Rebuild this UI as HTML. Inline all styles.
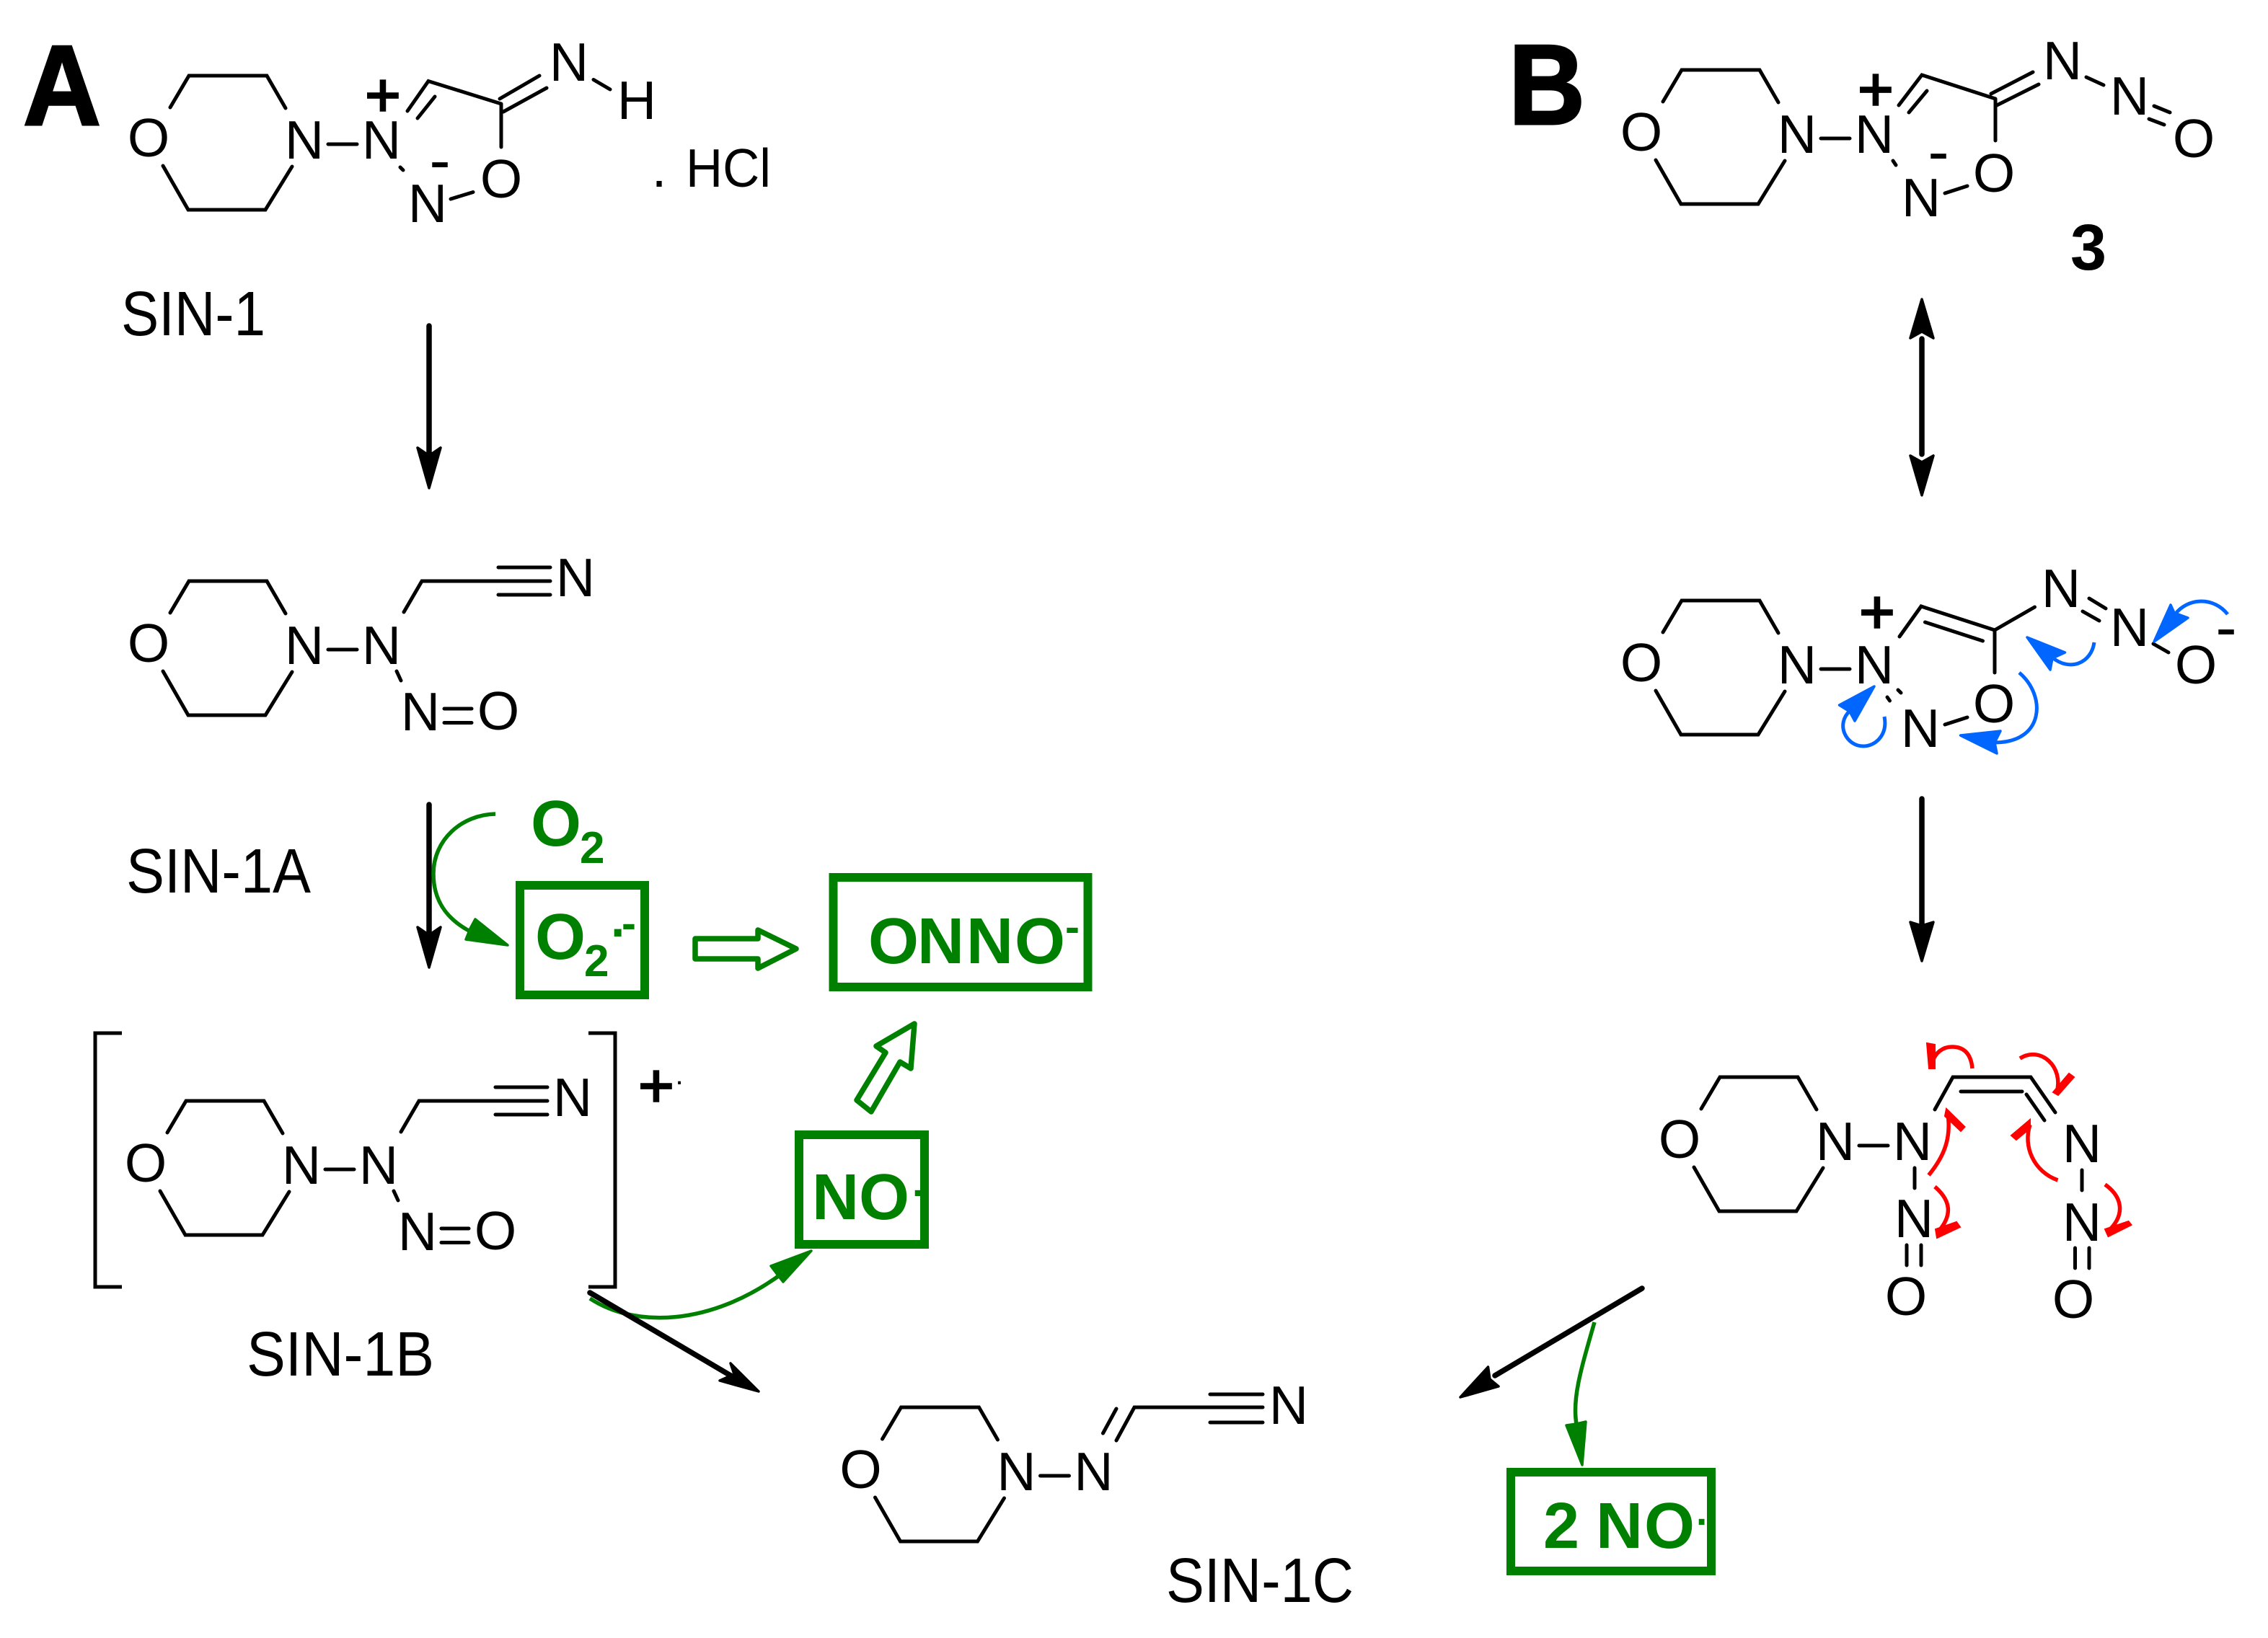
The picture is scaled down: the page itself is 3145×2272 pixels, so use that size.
<!DOCTYPE html>
<html>
<head>
<meta charset="utf-8">
<title>SIN-1 decomposition</title>
<style>
html,body{margin:0;padding:0;background:#fff;}
svg{display:block;}
text{font-family:"Liberation Sans",Arial,sans-serif;}
.a{font-size:75px;text-anchor:middle;fill:#000;}
.p{font-size:85px;text-anchor:middle;fill:#000;stroke:#000;stroke-width:2.5px;}
.m{font-size:88px;text-anchor:middle;fill:#000;}
.l{font-size:87px;fill:#000;}
.big{font-size:158px;font-weight:bold;fill:#000;stroke:#000;stroke-width:3px;}
.g{font-size:90px;font-weight:bold;fill:#008000;}
.gs{font-size:62px;font-weight:bold;fill:#008000;}
.b{fill:none;stroke:#000;stroke-width:5;stroke-linecap:round;stroke-linejoin:miter;}
.ar{fill:none;stroke:#000;stroke-width:7.5;stroke-linecap:round;}
.ah{fill:#000;stroke:#000;stroke-width:3.5;stroke-linejoin:round;}
.gl{fill:none;stroke:#008000;stroke-width:5.5;}
.gh{fill:#008000;stroke:#008000;stroke-width:3.5;stroke-linejoin:round;}
.box{fill:none;stroke:#008000;stroke-width:12;}
.open{fill:#fff;stroke:#008000;stroke-width:7.5;stroke-linejoin:round;}
.bl{fill:none;stroke:#0066ff;stroke-width:5;}
.bh{fill:#0066ff;stroke:#0066ff;stroke-width:3.5;stroke-linejoin:round;}
.r{fill:none;stroke:#ff0000;stroke-width:5.5;}
.rh{fill:#ff0000;stroke:#ff0000;stroke-width:2;}
</style>
</head>
<body>
<svg xmlns="http://www.w3.org/2000/svg" width="3145" height="2272" viewBox="0 0 3145 2272">
<rect width="3145" height="2272" fill="#fff"/>

<!-- Panel labels -->
<text class="big" x="32" y="173" textLength="108" lengthAdjust="spacingAndGlyphs">A</text>
<text class="big" x="2092" y="172" textLength="106" lengthAdjust="spacingAndGlyphs">B</text>

<!-- SIN-1 -->
<g>
<path class="b" d="M236 149L262 105H370L396 150M226 230L261 291H368L405 231M455 200H495"/>
<text class="a" x="206" y="217">O</text><text class="a" x="422" y="220">N</text><text class="a" x="529" y="220">N</text>
</g>
<path class="b" d="M565 154L594 112.5L695 144M579 164L603 134M693 137L748 105M698 155L758 122M695 144V204M625 276L656 266.5M555 232L559 236M823 110.5L846 124"/>
<text class="p" x="531" y="161">+</text>
<text class="m" x="610" y="252">-</text>
<text class="a" x="695" y="274">O</text>
<text class="a" x="593" y="308">N</text>
<text class="a" x="789" y="112">N</text>
<text class="a" x="883" y="165">H</text>
<text class="a" x="914" y="259">.</text>
<text class="a" x="1010" y="259" textLength="118" lengthAdjust="spacingAndGlyphs">HCl</text>
<text class="l" x="168" y="465" textLength="200" lengthAdjust="spacingAndGlyphs">SIN-1</text>

<!-- Arrow 1 -->
<path class="ar" d="M595 452V630"/>
<polygon class="ah" points="595,677 579,621 595,632 611,621"/>

<!-- SIN-1A -->
<g transform="translate(0,701)">
<path class="b" d="M236 149L262 105H370L396 150M226 230L261 291H368L405 231M455 200H495"/>
<text class="a" x="206" y="217">O</text><text class="a" x="422" y="220">N</text><text class="a" x="529" y="220">N</text>
</g>
<path class="b" d="M560 849L585 806H763M691 787H763M691 825H763M550 931L556 944M616 983H654M616 1002.500H654"/>
<text class="a" x="798" y="827">N</text>
<text class="a" x="583" y="1013">N</text>
<text class="a" x="691" y="1012">O</text>
<text class="l" x="175" y="1238" textLength="256" lengthAdjust="spacingAndGlyphs">SIN-1A</text>

<!-- Arrow 2 -->
<path class="ar" d="M595 1116V1294"/>
<polygon class="ah" points="595,1342 579,1286 595,1297 611,1286"/>

<!-- O2 -->
<path class="gl" d="M687 1129C640 1130 601 1165 601 1212C601 1250 620 1275 652 1292"/>
<polygon class="gh" points="704,1311 659,1275 652,1288 646,1303"/>
<text class="g" x="736" y="1173">O</text>
<text class="gs" x="804" y="1197">2</text>
<rect class="box" x="721" y="1228" width="173" height="152"/>
<text class="g" x="742" y="1330">O</text>
<text class="gs" x="810" y="1354">2</text>
<text class="g" style="font-size:70px" x="847" y="1299">.</text>
<text class="g" style="font-size:60px" x="862" y="1301">-</text>

<!-- Open arrows, ONNO -->
<polygon class="open" points="964,1302 1051,1302 1051,1290 1104,1316 1051,1343 1051,1330 964,1330"/>
<rect class="box" x="1155.500" y="1217" width="353" height="152"/>
<text class="g" x="1204 1272 1340 1407" y="1336">ONNO</text>
<text class="g" style="font-size:60px" x="1477" y="1306">-</text>
<polygon class="open" points="1188,1526 1208,1542 1248,1473 1263,1482 1268,1420 1215,1451 1228,1460"/>

<!-- NO box -->
<rect class="box" x="1108" y="1574" width="174" height="152"/>
<text class="g" x="1126 1191" y="1691">NO</text>
<text class="g" style="font-size:55px" x="1265" y="1659">.</text>

<!-- SIN-1B -->
<path class="b" style="stroke-linecap:butt" d="M169 1433H132V1785H169M816 1433H853V1785H816"/>
<g transform="translate(-4,1422)">
<path class="b" d="M236 149L262 105H370L396 150M226 230L261 291H368L405 231M455 200H495"/>
<text class="a" x="206" y="217">O</text><text class="a" x="422" y="220">N</text><text class="a" x="529" y="220">N</text>
</g>
<path class="b" d="M556 1570L581 1527H759M687 1508H759M687 1546H759M546 1652L552 1665M612 1704H650M612 1723.500H650"/>
<text class="a" x="794" y="1548">N</text>
<text class="a" x="579" y="1734">N</text>
<text class="a" x="687" y="1733">O</text>
<text class="p" x="910" y="1535">+</text>
<text class="a" style="font-size:40px" x="942" y="1504">.</text>
<text class="l" x="342" y="1908" textLength="260" lengthAdjust="spacingAndGlyphs">SIN-1B</text>

<!-- Arrows from SIN-1B -->
<path class="gl" d="M818 1801C880 1842 985 1840 1085 1766"/>
<polygon class="gh" points="1125,1735 1069,1756 1078,1768 1086,1778"/>
<path class="ar" d="M818 1793L1020 1912"/>
<polygon class="ah" points="1052,1930 1013,1891 1018,1906 998,1915"/>

<!-- SIN-1C -->
<g transform="translate(987.500,1847)">
<path class="b" d="M236 149L262 105H370L396 150M226 230L261 291H368L405 231M455 200H495"/>
<text class="a" x="206" y="217">O</text><text class="a" x="422" y="220">N</text><text class="a" x="529" y="220">N</text>
</g>
<path class="b" d="M1548 1998L1573 1952H1751M1678 1934H1751M1678 1973H1751M1529.500 1988L1548 1954"/>
<text class="a" x="1787" y="1975">N</text>
<text class="l" x="1617" y="2222" textLength="260" lengthAdjust="spacingAndGlyphs">SIN-1C</text>

<!-- Right arrow and 2 NO -->
<path class="ar" d="M2277 1787L2073 1908"/>
<polygon class="ah" points="2025,1938 2063.500,1896 2066,1913 2078,1923"/>
<path class="gl" d="M2211 1834C2192 1900 2180 1940 2186 1975"/>
<polygon class="gh" points="2194,2032 2172,1977 2186,1975 2199,1972"/>
<rect class="box" x="2095" y="2042" width="278" height="137"/>
<text class="g" x="2140 2213 2280" y="2147">2NO</text>
<text class="g" style="font-size:55px" x="2352" y="2115">.</text>

<!-- Compound 3 -->
<g transform="translate(2070,-8)">
<path class="b" d="M236 149L262 105H370L396 150M226 230L261 291H368L405 231M455 200H495"/>
<text class="a" x="206" y="217">O</text><text class="a" x="422" y="220">N</text><text class="a" x="529" y="220">N</text>
</g>
<path class="b" d="M2633 146L2665 104L2767 137M2647 156L2672 126M2761 130L2819 100M2769 146L2827 117M2767 137V195M2697 268L2728 258M2625 223L2629 229M2893 107L2917 118M2987 147L3009 156M2980 165L3001 173"/>
<text class="p" x="2601" y="153">+</text>
<text class="m" x="2688" y="240">-</text>
<text class="a" x="2765" y="266">O</text>
<text class="a" x="2664" y="300">N</text>
<text class="a" x="2860" y="110">N</text>
<text class="a" x="2953" y="159">N</text>
<text class="a" x="3042" y="218">O</text>
<text style="font-size:90px;font-weight:bold;fill:#000" x="2871" y="374">3</text>

<!-- Double arrow -->
<path class="ar" d="M2665 470V630"/>
<polygon class="ah" points="2665,415 2649,469 2665,460 2681,469"/>
<polygon class="ah" points="2665,687 2649,632 2665,641 2681,632"/>

<!-- Resonance form -->
<g transform="translate(2070,728)">
<path class="b" d="M236 149L262 105H370L396 150M226 230L261 291H368L405 231M455 200H495"/>
<text class="a" x="206" y="217">O</text><text class="a" x="422" y="220">N</text><text class="a" x="529" y="220">N</text>
</g>
<path class="b" d="M2634 883L2664 841L2766 874M2669.500 863L2749.500 889M2766 874L2821.500 842M2766 874V933M2697 1005L2728 995M2632 957L2636 961M2617 967L2620.500 972M2897 830L2920 844M2888 848L2911 861M2986 893L3007 905"/>
<text class="p" x="2603" y="878">+</text>
<text class="m" x="3087" y="900">-</text>
<text class="a" x="2765" y="1002">O</text>
<text class="a" x="2663" y="1036">N</text>
<text class="a" x="2858" y="842">N</text>
<text class="a" x="2953" y="896">N</text>
<text class="a" x="3045" y="948">O</text>

<!-- Blue curved arrows -->
<path class="bl" d="M3089 852C3070 828 3035 828 3016 852"/>
<polygon class="bh" points="2987,890 3010,839 3015,850 3034,857"/>
<path class="bl" d="M2904 891C2900 920 2870 932 2846 912"/>
<polygon class="bh" points="2811,884 2863.500,905 2846,913 2843,929"/>
<path class="bl" d="M2800 933C2838 965 2835 1030 2766 1030"/>
<polygon class="bh" points="2718.500,1020 2774,1014 2766,1030 2769,1045"/>
<path class="bl" d="M2613 994C2618 1020 2600 1035 2584 1035C2560 1035 2545 1005 2565 986"/>
<polygon class="bh" points="2599,952 2550.500,978 2565,987 2572,1000"/>

<!-- Lower arrow -->
<path class="ar" d="M2665 1108V1285"/>
<polygon class="ah" points="2665,1333 2649,1279 2665,1284 2681,1279"/>

<!-- Ring-opened form -->
<g transform="translate(2123,1389)">
<path class="b" d="M236 149L262 105H370L396 150M226 230L261 291H368L405 231M455 200H495"/>
<text class="a" x="206" y="217">O</text><text class="a" x="422" y="220">N</text><text class="a" x="529" y="220">N</text>
</g>
<path class="b" d="M2683 1539L2708 1494H2816L2850 1543M2719 1514H2804M2810 1518L2835 1554M2887 1623V1651M2877.500 1731V1759M2897 1731V1759M2655 1620V1648M2644 1727V1755M2664 1727V1755"/>
<text class="a" x="2887" y="1612">N</text>
<text class="a" x="2887" y="1721">N</text>
<text class="a" x="2875" y="1828">O</text>
<text class="a" x="2654" y="1716">N</text>
<text class="a" x="2643" y="1824">O</text>

<!-- Red curved arrows -->
<path class="r" d="M2735 1482C2733 1460 2722 1452 2707 1452C2694 1452 2684 1460 2680 1472"/>
<polygon class="rh" points="2672,1447 2683,1449 2683,1482 2675,1482"/>
<path class="r" d="M2801 1468C2830 1450 2862 1480 2852 1515"/>
<polygon class="rh" points="2847,1515 2854,1519 2876,1494 2869,1489"/>
<path class="r" d="M2674.500 1630C2695 1605 2706 1580 2701 1545"/>
<polygon class="rh" points="2699,1538 2724.500,1563 2719,1569 2697,1548"/>
<path class="r" d="M2853.500 1637C2820 1625 2805 1590 2815 1560"/>
<polygon class="rh" points="2815,1553 2789,1575 2796,1581 2815,1565"/>
<path class="r" d="M2683 1646C2705 1665 2708 1685 2688 1708"/>
<polygon class="rh" points="2684,1705 2686,1717 2718,1702 2713,1695"/>
<path class="r" d="M2919 1643C2943 1660 2948 1685 2923 1708"/>
<polygon class="rh" points="2919,1705 2923.500,1715 2955.500,1699 2951.500,1694"/>
</svg>
</body>
</html>
